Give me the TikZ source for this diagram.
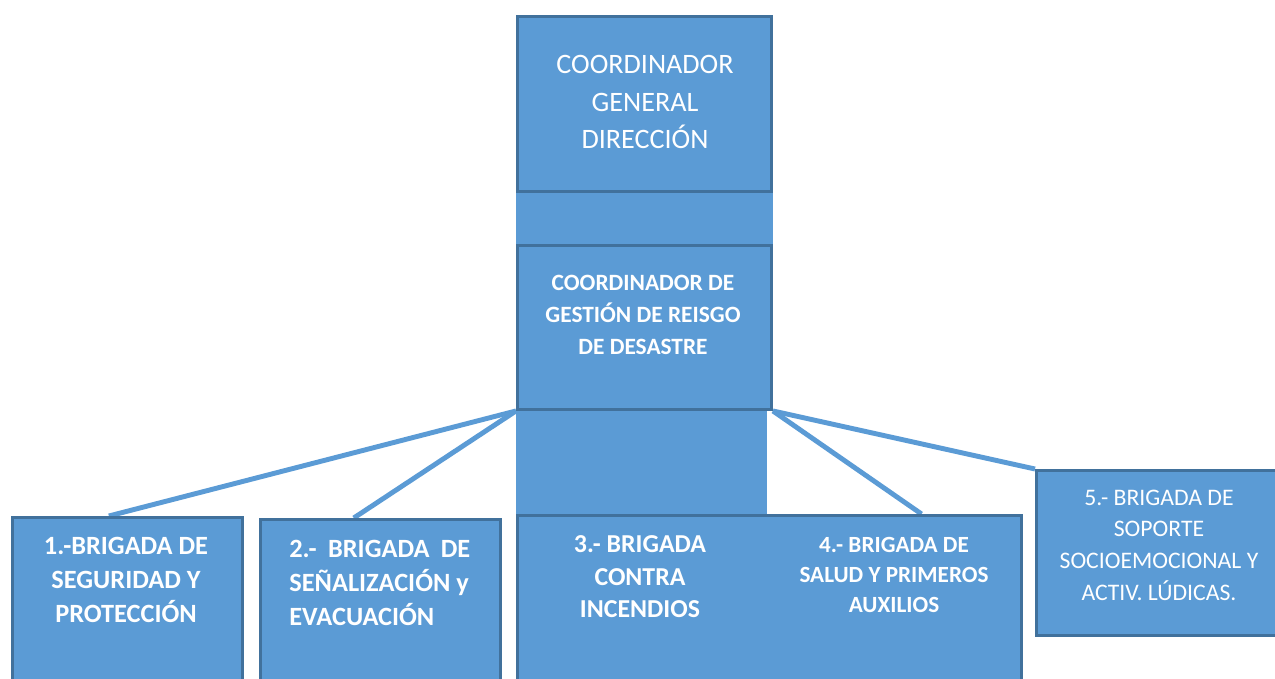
\documentclass[tikz,border=0pt]{standalone}
\usepackage{fontspec}
\setmainfont{Carlito}
\usetikzlibrary{positioning,calc,backgrounds}
\definecolor{cajaazul}{HTML}{5B9BD5}
\definecolor{bordeazul}{HTML}{41719C}

\begin{document}
\begin{tikzpicture}[%
    x=0.02cm, y=-0.02cm,
    caja/.style={rectangle, draw=bordeazul, fill=cajaazul, line width=1.7pt,
      anchor=north west, inner sep=0pt},
    texto/.style={text=white, align=center, inner sep=0pt},
    enlace/.style={draw=cajaazul, line width=2.8pt}
  ]
    \clip (0,0) rectangle (1275,679);

    % coordinadores
    \node[caja, minimum width=5.08cm, minimum height=3.5cm]  (gen) at (516,15)  {};
    \node[caja, minimum width=5.08cm, minimum height=3.28cm] (grd) at (516,244) {};
    \fill[cajaazul] (gen.south west) rectangle (grd.north east);
    \fill[cajaazul] (grd.south west) rectangle (767,514);

    % brigadas
    \node[caja, minimum width=4.6cm,   minimum height=3.8cm] (b1)  at (11,516)   {};
    \node[caja, minimum width=4.8cm,   minimum height=3.8cm] (b2)  at (259,518)  {};
    \node[caja, minimum width=10.08cm, minimum height=3.8cm] (b34) at (516,514)  {};
    \node[caja, minimum width=4.9cm,   minimum height=3.3cm] (b5)  at (1035,469) {};

    % textos
    \node[texto, font=\fontsize{16}{21.3}\selectfont] (gentxt) at (645,102)
      {COORDINADOR\\GENERAL\\DIRECCIÓN};
    \node[texto, font=\bfseries\fontsize{13.3}{18}\selectfont] (grdtxt) at (643,315)
      {COORDINADOR DE\\GESTIÓN DE REISGO\\DE DESASTRE};
    \node[texto, font=\bfseries\fontsize{15}{19.5}\selectfont] (b1txt) at (126,580)
      {1.-BRIGADA DE\\SEGURIDAD Y\\PROTECCIÓN};
    \node[texto, align=left, anchor=west, font=\bfseries\fontsize{15}{19.5}\selectfont] (b2txt) at (289,583)
      {\makebox[3.62cm][s]{2.- BRIGADA DE}\\SEÑALIZACIÓN y\\EVACUACIÓN};
    \node[texto, font=\bfseries\fontsize{14.7}{18.5}\selectfont] (b3txt) at (640,577)
      {3.- BRIGADA\\CONTRA\\INCENDIOS};
    \node[texto, font=\bfseries\fontsize{13.2}{17}\selectfont] (b4txt) at (894,575)
      {4.- BRIGADA DE\\SALUD Y PRIMEROS\\AUXILIOS};
    \node[texto, font=\fontsize{13.5}{18}\selectfont] (b5txt) at (1159,545)
      {5.- BRIGADA DE\\SOPORTE\\SOCIOEMOCIONAL Y\\ACTIV. LÚDICAS.};

    % enlaces
    \begin{scope}[on background layer]
      \path[enlace]
                (grd.south west) edge ($(b1.north west)!.42!(b1.north east)$)
                (grd.south west) edge ($(b2.north west)!.39!(b2.north east)$)
                (grd.south east) edge ($(b34.north west)!.80!(b34.north east)$)
                (grd.south east) edge (b5.north west);
    \end{scope}
\end{tikzpicture}
\end{document}
